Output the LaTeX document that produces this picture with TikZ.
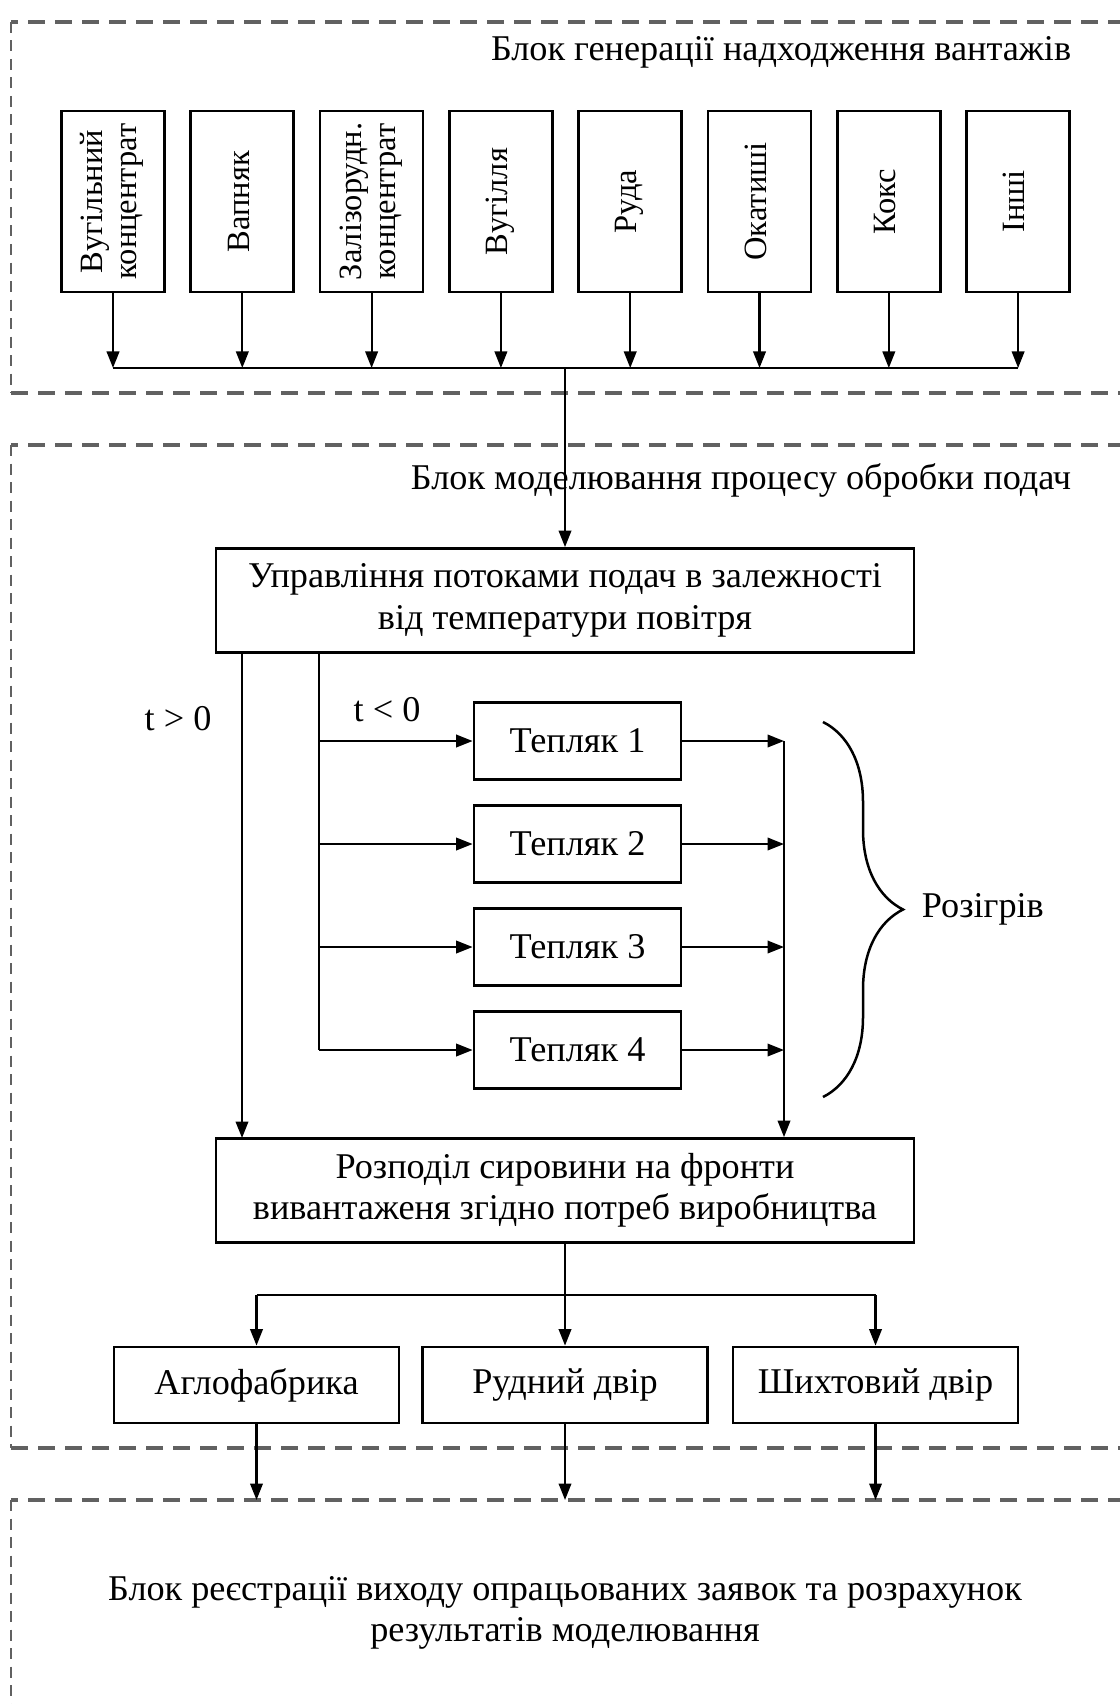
\documentclass[tikz,border=0pt]{standalone}
\usepackage{fontspec}
\setmainfont{Liberation Serif}
\usepackage{tikz}
\usetikzlibrary{arrows.meta}
\usetikzlibrary{decorations.pathreplacing}
\definecolor{framegray}{gray}{0.38}
\tikzstyle{block}=[draw, line width=1.1pt, inner sep=0pt, align=center]
\tikzstyle{srcblock}=[block, minimum width=41.2pt, minimum height=72.4pt]
\tikzstyle{wideblock}=[block, minimum width=279.2pt, minimum height=41.6pt]
\tikzstyle{heatblock}=[block, minimum width=82.8pt, minimum height=30.8pt]
\tikzstyle{outblock}=[block, minimum width=114pt, minimum height=30.4pt]
\tikzstyle{link}=[line width=0.85pt]
\tikzstyle{arrow}=[link, -{Triangle[length=6.6pt, width=5pt]}]
\tikzstyle{frame}=[framegray, line width=1.3pt, dash pattern=on 6.8pt off 4pt]
\tikzstyle{frameside}=[framegray, line width=0.6pt, dash pattern=on 4.4pt off 3pt]
\newcommand{\vtext}[1]{\rotatebox{90}{\fontsize{13pt}{15pt}\selectfont\renewcommand{\arraystretch}{0.9}\begin{tabular}{@{}c@{}}#1\end{tabular}}}

\begin{document}
\begin{tikzpicture}[x=0.4pt, y=-0.4pt, font=\fontsize{14.5pt}{16.5pt}\selectfont]
    \useasboundingbox (0,0) rectangle (1119,1704);
    % dashed frames of the three blocks
    \draw[frame] (1125,22) -- (11,22);
    \draw[frame] (11,393) -- (1125,393);
    \draw[frameside] (11,22) -- (11,393);
    \draw[frame] (1125,445) -- (11,445);
    \draw[frame] (11,1448) -- (1125,1448);
    \draw[frameside] (11,445) -- (11,1448);
    \draw[frame] (1125,1500) -- (11,1500);
    \draw[frameside] (11,1500) -- (11,1710);
    \node[anchor=east] (gentitle) at (1080,52) {Блок генерації надходження вантажів};
    \node[anchor=east] (modtitle) at (1080,480) {Блок моделювання процесу обробки подач};
    \node[align=center] (regtitle) at (565,1613) {Блок реєстрації виходу опрацьованих заявок та розрахунок\\результатів моделювання};

    % sources
    \node[srcblock] (s1) at (113,201.5) {\vtext{Вугільний\\концентрат}};
    \node[srcblock] (s2) at (242.3,201.5) {\vtext{Вапняк}};
    \node[srcblock] (s3) at (371.6,201.5) {\vtext{Залізорудн.\\концентрат}};
    \node[srcblock] (s4) at (500.9,201.5) {\vtext{Вугілля}};
    \node[srcblock] (s5) at (630.2,201.5) {\vtext{Руда}};
    \node[srcblock] (s6) at (759.5,201.5) {\vtext{Окатиші}};
    \node[srcblock] (s7) at (888.8,201.5) {\vtext{Кокс}};
    \node[srcblock] (s8) at (1018.1,201.5) {\vtext{Інші}};
    \coordinate (busL) at (113,368);
    \coordinate (busR) at (1018.1,368);
    \foreach \s in {s1,s2,s3,s4,s5,s6,s7,s8}
        \draw[arrow] (\s.south) -- (\s.south |- busL);
    \draw[link] (busL) -- (busR);

    % control of flows
    \node[wideblock] (upr) at (565,600.5) {Управління потоками подач в залежності\\від температури повітря};
    \draw[arrow] (upr.north |- busL) -- (upr.north);
    \node[heatblock] (h1) at (577.5,741) {Тепляк 1};
    \node[heatblock] (h2) at (577.5,844) {Тепляк 2};
    \node[heatblock] (h3) at (577.5,947) {Тепляк 3};
    \node[heatblock] (h4) at (577.5,1050) {Тепляк 4};
    \node[wideblock] (rozp) at (565,1190.5) {Розподіл сировини на фронти\\вивантаженя згідно потреб виробництва};
    \coordinate (split) at (319,652);
    \coordinate (join) at (784,741);
    \draw[link] (split) -- (split |- h4);
    \foreach \h in {h1,h2,h3,h4} {
        \draw[arrow] (split |- \h) -- (\h.west);
        \draw[arrow] (\h.east) -- (join |- \h);
    }
    \draw[arrow] (join) -- (join |- rozp.north);
    \draw[arrow] (242,652) -- (242,1138);
    \node (tpos) at (178,719) {t > 0};
    \node (tneg) at (387,710) {t < 0};
    \draw[line width=1pt, decorate, decoration={brace, amplitude=32pt}] (823,722) -- (823,1097);
    \node[anchor=west] (heat) at (913,909) {Розігрів};

    % consumers
    \node[outblock] (aglo) at (256.5,1385) {Аглофабрика};
    \node[outblock] (rud) at (565,1385) {Рудний двір};
    \node[outblock] (shykh) at (875.5,1385) {Шихтовий двір};
    \coordinate (fork) at (565,1295);
    \draw[link] (rozp.south) -- (fork);
    \draw[link] (fork -| aglo) -- (fork -| shykh);
    \foreach \c in {aglo,rud,shykh} {
        \draw[arrow] (fork -| \c) -- (\c.north);
        \draw[arrow] (\c.south) -- (\c.south |- 0,1500);
    }
\end{tikzpicture}
\end{document}
